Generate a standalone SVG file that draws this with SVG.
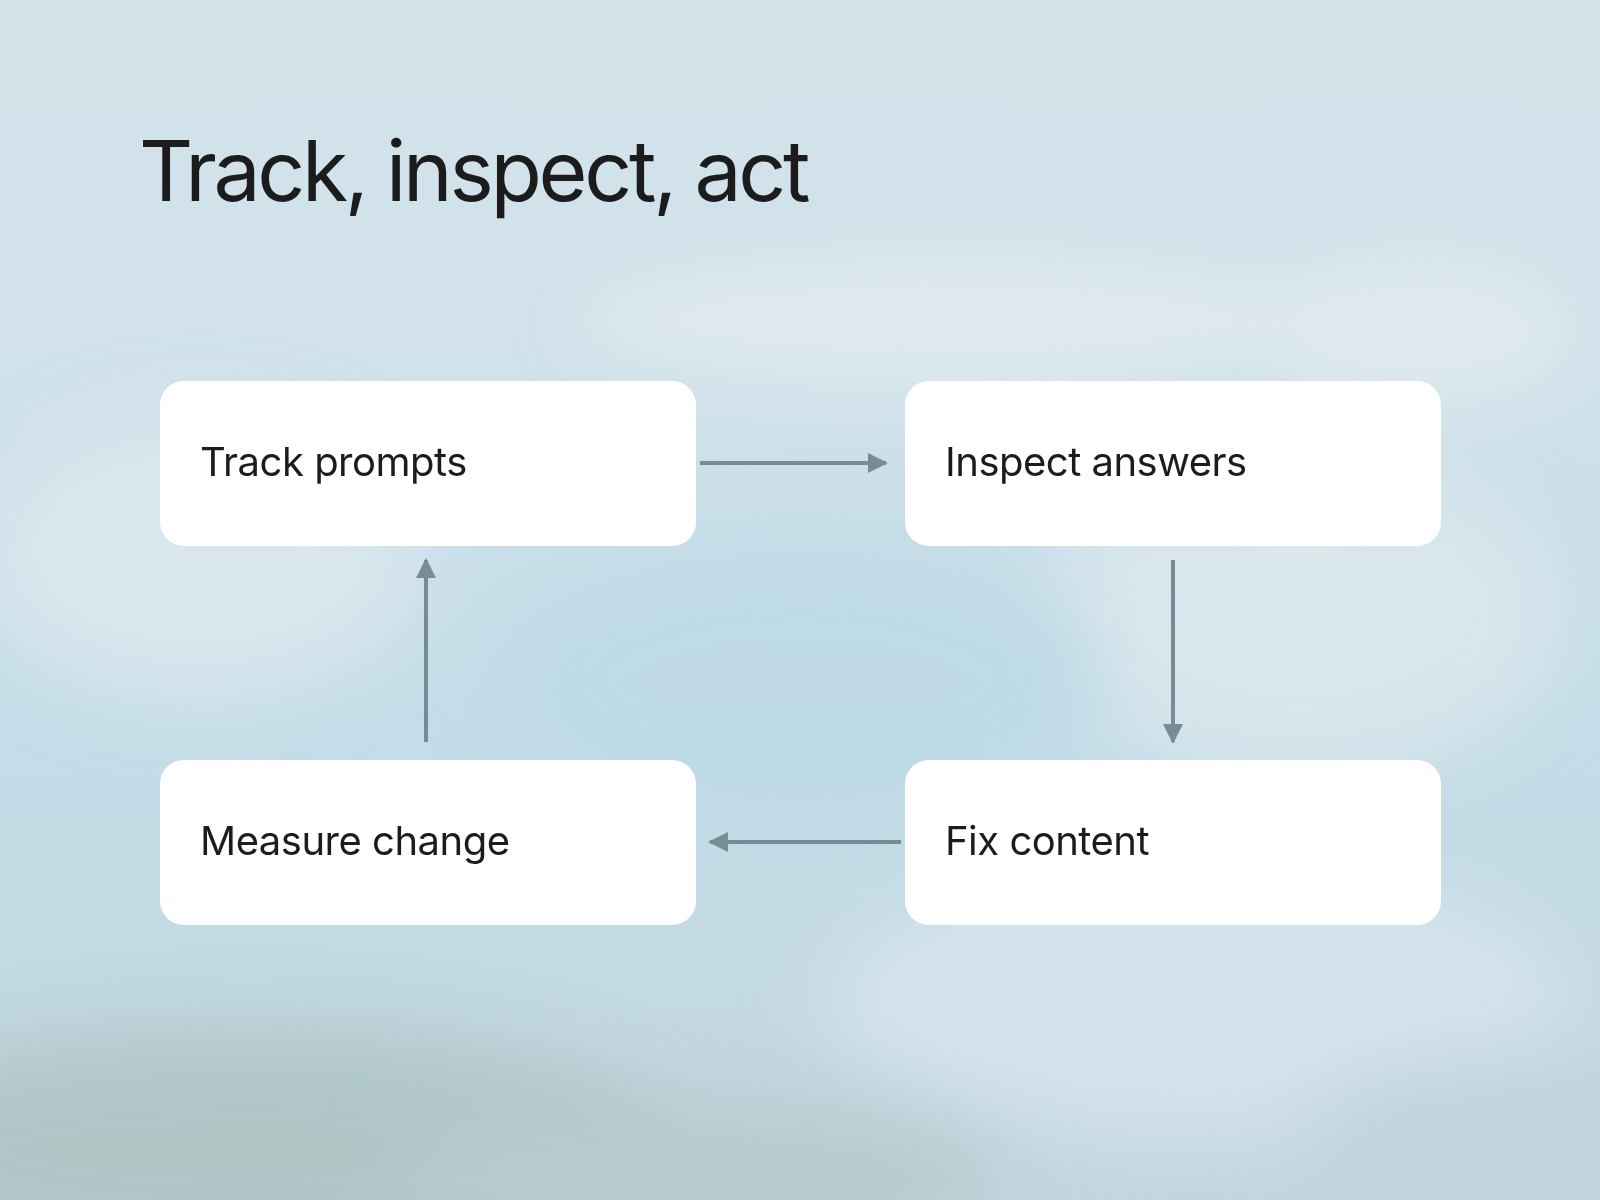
<svg xmlns="http://www.w3.org/2000/svg" width="1600" height="1200" viewBox="0 0 1600 1200">
<defs>
<style>
.title{font-family:Inter,"Noto Sans","Liberation Sans",sans-serif;font-size:84px;fill:#1c1c1c;letter-spacing:-3.3px}
.label{font-family:Inter,"Noto Sans","Liberation Sans",sans-serif;font-size:40px;fill:#1c1c1c;letter-spacing:-0.5px}
.box{fill:#ffffff}
.conn{stroke:#778c97;stroke-width:4;fill:none}
</style>
<linearGradient id="bg" x1="0" y1="0" x2="0" y2="1">
<stop offset="0" stop-color="#d4e3ea"/>
<stop offset="0.35" stop-color="#cfe1ea"/>
<stop offset="0.6" stop-color="#c4dde8"/>
<stop offset="1" stop-color="#c3d6df"/>
</linearGradient>
<filter id="blur" x="-50%" y="-50%" width="200%" height="200%"><feGaussianBlur stdDeviation="40"/></filter>
<filter id="blur2" x="-50%" y="-50%" width="200%" height="200%"><feGaussianBlur stdDeviation="30"/></filter>
<marker id="ah" viewBox="0 0 10 10" refX="9" refY="5" markerWidth="5" markerHeight="5" orient="auto" markerUnits="strokeWidth">
<path d="M0,0 L10,5 L0,10 Z" fill="#778c97"/>
</marker>
</defs>
<rect x="0" y="0" width="1600" height="1200" fill="url(#bg)"/>
<g opacity="0.75">
<ellipse cx="950" cy="320" rx="380" ry="70" fill="#e2ebf0" filter="url(#blur2)"/>
<ellipse cx="1420" cy="330" rx="160" ry="80" fill="#e2ebf0" filter="url(#blur2)"/>
<ellipse cx="200" cy="560" rx="220" ry="140" fill="#dfe9ef" filter="url(#blur)"/>
<ellipse cx="1300" cy="620" rx="260" ry="160" fill="#dfe9ee" filter="url(#blur)"/>
<ellipse cx="800" cy="680" rx="300" ry="140" fill="#bcd9e6" filter="url(#blur)"/>
<ellipse cx="1200" cy="1000" rx="380" ry="140" fill="#d8e6ee" filter="url(#blur)"/>
<ellipse cx="250" cy="1150" rx="420" ry="120" fill="#a9c0bd" filter="url(#blur)"/>
<ellipse cx="700" cy="1180" rx="300" ry="80" fill="#b3c8c8" filter="url(#blur)"/>
<ellipse cx="1500" cy="1150" rx="200" ry="90" fill="#c2d4dc" filter="url(#blur)"/>
</g>
<text class="title" x="139" y="201">Track, inspect, act</text>
<g id="connectors">
<line class="conn" x1="700" y1="463" x2="886" y2="463" marker-end="url(#ah)"/>
<line class="conn" x1="1173" y1="560" x2="1173" y2="742" marker-end="url(#ah)"/>
<line class="conn" x1="901" y1="842" x2="710" y2="842" marker-end="url(#ah)"/>
<line class="conn" x1="426" y1="742" x2="426" y2="560" marker-end="url(#ah)"/>
</g>
<g id="node-track">
<rect class="box" x="160" y="381" width="536" height="165" rx="24"/>
<text class="label" x="200" y="476">Track prompts</text>
</g>
<g id="node-inspect">
<rect class="box" x="905" y="381" width="536" height="165" rx="24"/>
<text class="label" x="945" y="476">Inspect answers</text>
</g>
<g id="node-fix">
<rect class="box" x="905" y="760" width="536" height="165" rx="24"/>
<text class="label" x="945" y="855">Fix content</text>
</g>
<g id="node-measure">
<rect class="box" x="160" y="760" width="536" height="165" rx="24"/>
<text class="label" x="200" y="855">Measure change</text>
</g>
</svg>
